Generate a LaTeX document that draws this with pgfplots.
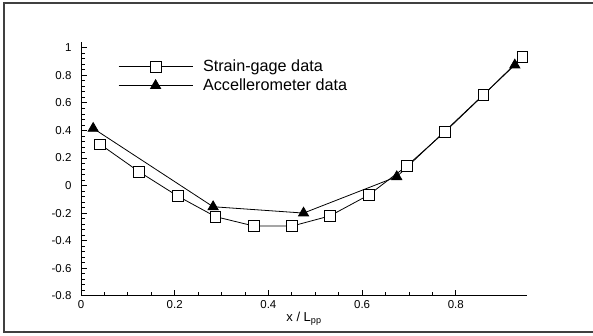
\documentclass[border=0pt]{standalone}
\usepackage{pgfplots}
\pgfplotsset{compat=1.18}
\usepackage{fontspec}
\setmainfont{Liberation Sans}
\begin{document}
\begin{tikzpicture}
\useasboundingbox (0,0) rectangle (593pt,336pt);
\draw[black!75, line width=1.2pt] (593pt,333pt) -- (4pt,333pt) -- (4pt,4pt) -- (593pt,4pt);
\begin{axis}[
  at={(81pt,40.3pt)}, anchor=south west,
  scale only axis, width=446pt, height=253.4pt,
  xmin=0, xmax=0.952, ymin=-0.8, ymax=1.04,
  axis x line*=bottom, axis y line*=left,
  axis line style={black, line width=0.9pt},
  xtick={0,0.2,0.4,0.6,0.8},
  xticklabels={0,0.2,0.4,0.6,0.8},
  ytick={-0.8,-0.6,-0.4,-0.2,0,0.2,0.4,0.6,0.8,1},
  yticklabels={-0.8,-0.6,-0.4,-0.2,0,0.2,0.4,0.6,0.8,1},
  minor x tick num=3, minor y tick num=4,
  tick align=inside,
  major tick length=6pt, minor tick length=3.5pt,
  tick style={black, line width=0.8pt},
  tick label style={font=\fontsize{11.5}{13}\selectfont},
  xticklabel style={yshift=-1pt},
  yticklabel style={xshift=-6pt},
  xlabel={x / L\textsubscript{pp}},
  xlabel style={font=\fontsize{13}{15}\selectfont, yshift=3pt},
  legend style={draw=none, fill=none, at={(0.083,0.938)}, anchor=north west,
    inner sep=0pt, font=\fontsize{16.2}{18}\selectfont, row sep=1.5pt,
    nodes={inner sep=2pt},
    /tikz/every odd column/.append style={column sep=8pt}},
  legend cell align=left,
  legend image code/.code={\draw[mark repeat=2,mark phase=2,#1] plot coordinates {(0pt,0pt) (37pt,0pt) (74pt,0pt)};},
]
\addplot[black, line width=0.8pt, mark=square*, mark size=5.4pt, mark options={fill=white, solid}] coordinates {
(0.041,0.299) (0.124,0.100) (0.206,-0.076) (0.287,-0.226) (0.369,-0.294)
(0.451,-0.294) (0.531,-0.221) (0.614,-0.069) (0.695,0.141) (0.777,0.390)
(0.859,0.657) (0.942,0.935)};
\addlegendentry{Strain-gage data}
\addplot[black, line width=0.8pt, mark=triangle*, mark size=5.8pt, mark options={fill=black, solid}] coordinates {
(0.026,0.415) (0.282,-0.154) (0.475,-0.200) (0.674,0.064) (0.926,0.875)};
\addlegendentry{Accellerometer data}
\end{axis}
\end{tikzpicture}
\end{document}
